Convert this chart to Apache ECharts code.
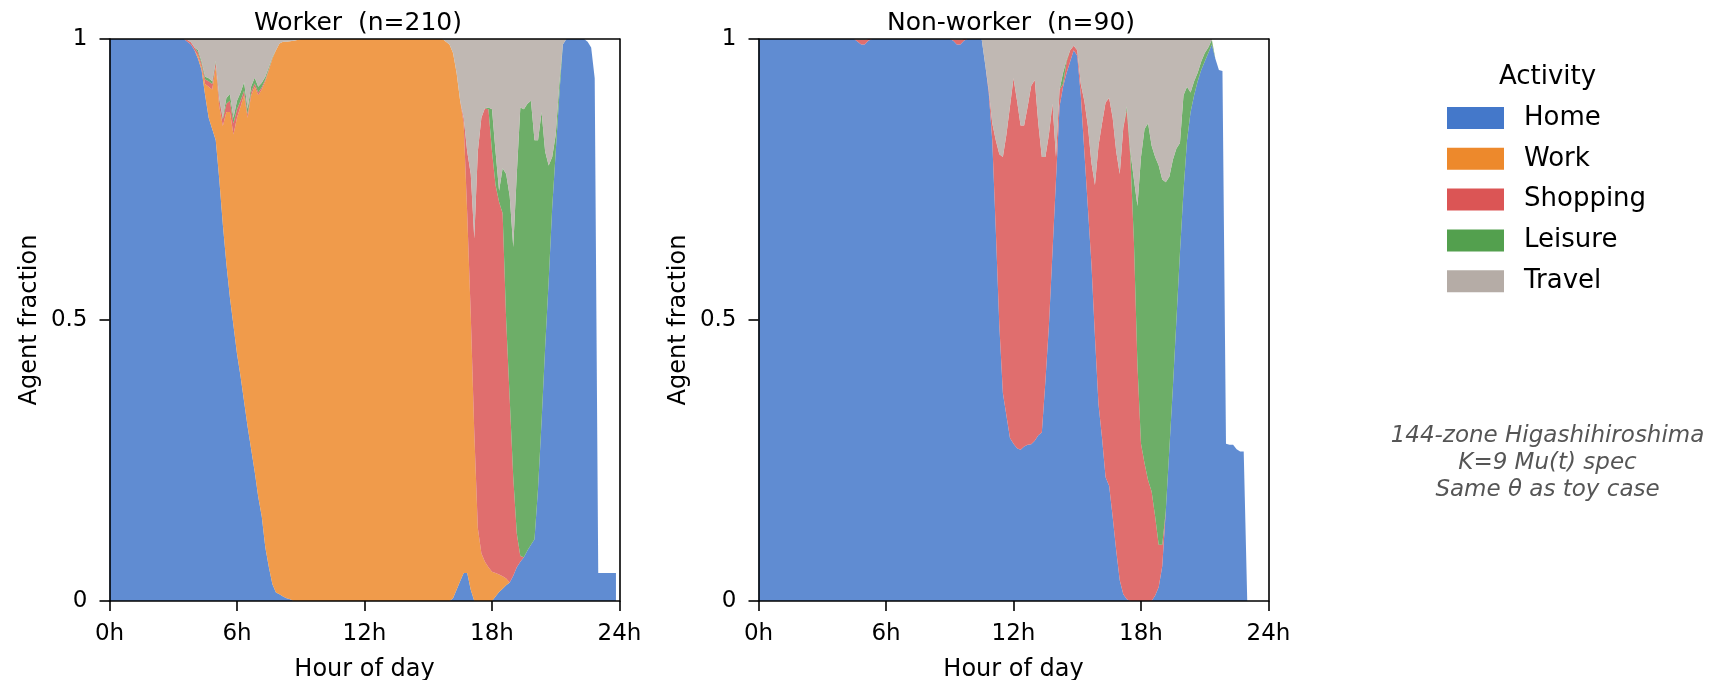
<!DOCTYPE html>
<html>
<head>
<meta charset="utf-8">
<title>Activity shares by hour</title>
<script src="https://cdn.jsdelivr.net/npm/echarts@6/dist/echarts.min.js"></script>
<style>
  html, body { margin: 0; padding: 0; background: #fff; }
  #chart { width: 1730px; height: 680px; }
</style>
</head>
<body>
<div id="chart"></div>
<script>
// 10-minute slot boundaries, 0:00 .. 24:00 (the values below fill slots 0:00 .. 23:50)
const SLOT_HOURS = Array.from({ length: 145 }, (_, i) => i / 6)

const ACTIVITIES = ['Home', 'Work', 'Shopping', 'Leisure', 'Travel']
const COLORS = ['#4478CA', '#ED892C', '#DB5555', '#53A04E', '#B5ACA6']

const X_TICK_EVERY = 36   // slots between 0h, 6h, 12h, 18h, 24h
const Y_TICKS = [0, 0.5, 1]

// Worker (n=210): one row per hour, six 10-min slots per row
const homeWorker = [
  1, 1, 1, 1, 1, 1,
  1, 1, 1, 1, 1, 1,
  1, 1, 1, 1, 1, 1,
  1, 1, 1, 1, .995, .99,
  .98, .965, .945, .90, .86, .84,
  .82, .75, .67, .60, .54, .49,
  .44, .40, .355, .31, .27, .23,
  .185, .15, .095, .06, .03, .015,
  .012, .008, .005, .003, 0, 0,
  0, 0, 0, 0, 0, 0,
  0, 0, 0, 0, 0, 0,
  0, 0, 0, 0, 0, 0,
  0, 0, 0, 0, 0, 0,
  0, 0, 0, 0, 0, 0,
  0, 0, 0, 0, 0, 0,
  0, 0, 0, 0, 0, 0,
  0, .005, .02, .035, .05, .05,
  .02, 0, 0, 0, 0, 0,
  0, .008, .016, .022, .028, .033,
  .045, .06, .07, .078, .09, .10,
  .11, .20, .32, .45, .57, .70,
  .80, .90, .99, 1, 1, 1,
  1, 1, 1, .995, .985, .93,
  .05, .05, .05, .05, .05, .05
]
const workWorker = [
  0, 0, 0, 0, 0, 0,
  0, 0, 0, 0, 0, 0,
  0, 0, 0, 0, 0, 0,
  0, 0, 0, 0, 0, 0,
  0, .005, .005, .02, .055, .07,
  .13, .13, .175, .27, .33, .34,
  .42, .48, .545, .55, .63, .685,
  .715, .76, .83, .885, .935, .965,
  .98, .987, .99, .993, .997, .998,
  1, 1, 1, 1, 1, 1,
  1, 1, 1, 1, 1, 1,
  1, 1, 1, 1, 1, 1,
  1, 1, 1, 1, 1, 1,
  1, 1, 1, 1, 1, 1,
  1, 1, 1, 1, 1, 1,
  1, 1, 1, 1, 1, .995,
  .99, .97, .92, .855, .80, .64,
  .49, .30, .13, .085, .07, .06,
  .052, .042, .031, .022, .012, 0,
  0, 0, 0, 0, 0, 0,
  0, 0, 0, 0, 0, 0,
  0, 0, 0, 0, 0, 0,
  0, 0, 0, 0, 0, 0,
  0, 0, 0, 0, 0, 0
]
const shopWorker = [
  0, 0, 0, 0, 0, 0,
  0, 0, 0, 0, 0, 0,
  0, 0, 0, 0, 0, 0,
  0, 0, 0, 0, .003, .004,
  .005, .006, .006, .008, .01, .01,
  .008, .012, .012, .015, .02, .02,
  .015, .01, .008, .006, .006, .006,
  .005, .004, .003, .002, .001, 0,
  0, 0, 0, 0, 0, 0,
  0, 0, 0, 0, 0, 0,
  0, 0, 0, 0, 0, 0,
  0, 0, 0, 0, 0, 0,
  0, 0, 0, 0, 0, 0,
  0, 0, 0, 0, 0, 0,
  0, 0, 0, 0, 0, 0,
  0, 0, 0, 0, 0, 0,
  0, 0, 0, 0, .01, .11,
  .25, .345, .67, .775, .807, .815,
  .748, .69, .663, .646, .46, .327,
  .175, .06, .01, 0, 0, 0,
  0, 0, 0, 0, 0, 0,
  0, 0, 0, 0, 0, 0,
  0, 0, 0, 0, 0, 0,
  0, 0, 0, 0, 0, 0
]
const leisureWorker = [
  0, 0, 0, 0, 0, 0,
  0, 0, 0, 0, 0, 0,
  0, 0, 0, 0, 0, 0,
  0, 0, 0, 0, 0, 0,
  0, .004, .004, .005, .005, .005,
  .003, .003, .003, .01, .012, .01,
  .015, .015, .015, .01, .01, .01,
  .01, .008, .005, .003, .002, 0,
  0, 0, 0, 0, 0, 0,
  0, 0, 0, 0, 0, 0,
  0, 0, 0, 0, 0, 0,
  0, 0, 0, 0, 0, 0,
  0, 0, 0, 0, 0, 0,
  0, 0, 0, 0, 0, 0,
  0, 0, 0, 0, 0, 0,
  0, 0, 0, 0, 0, 0,
  0, 0, 0, 0, 0, 0,
  0, 0, 0, 0, 0, .003,
  .075, .06, .02, .08, .26, .36,
  .41, .64, .798, .797, .795, .79,
  .71, .62, .55, .35, .205, .09,
  .03, .02, 0, 0, 0, 0,
  0, 0, 0, 0, 0, 0,
  0, 0, 0, 0, 0, 0
]
const travelWorker = [
  0, 0, 0, 0, 0, 0,
  0, 0, 0, 0, 0, 0,
  0, 0, 0, 0, 0, 0,
  0, 0, 0, 0, .002, .006,
  .015, .02, .04, .067, .07, .075,
  .039, .105, .14, .105, .098, .14,
  .11, .095, .077, .124, .084, .069,
  .085, .078, .067, .05, .032, .02,
  .008, .005, .005, .004, .003, .002,
  0, 0, 0, 0, 0, 0,
  0, 0, 0, 0, 0, 0,
  0, 0, 0, 0, 0, 0,
  0, 0, 0, 0, 0, 0,
  0, 0, 0, 0, 0, 0,
  0, 0, 0, 0, 0, 0,
  0, 0, 0, 0, 0, .005,
  .01, .025, .06, .11, .14, .20,
  .24, .355, .20, .14, .123, .122,
  .125, .20, .27, .23, .24, .28,
  .37, .24, .122, .125, .115, .11,
  .18, .18, .13, .20, .225, .21,
  .17, .08, .01, 0, 0, 0,
  0, 0, 0, 0, 0, 0,
  0, 0, 0, 0, 0, 0
]

// Non-worker (n=90)
const homeNonWorker = [
  1, 1, 1, 1, 1, 1,
  1, 1, 1, 1, 1, 1,
  1, 1, 1, 1, 1, 1,
  1, 1, 1, 1, 1, 1,
  1, 1, 1, 1, .995, .99,
  .99, .997, 1, 1, 1, 1,
  1, 1, 1, 1, 1, 1,
  1, 1, 1, 1, 1, 1,
  1, 1, 1, 1, 1, 1,
  1, .997, .99, .99, .997, 1,
  1, 1, 1, 1, .955, .905,
  .82, .66, .49, .37, .33, .29,
  .28, .272, .269, .275, .278, .279,
  .285, .295, .30, .39, .49, .62,
  .75, .88, .915, .94, .96, .98,
  .97, .90, .80, .70, .60, .47,
  .35, .29, .22, .205, .15, .09,
  .037, .012, .003, 0, 0, 0,
  0, 0, 0, 0, .01, .025,
  .062, .16, .27, .38, .50, .62,
  .73, .82, .87, .90, .925, .945,
  .96, .975, .99, .965, .945, .943,
  .28, .278, .278, .27, .266, .266,
  0, 0, 0, 0, 0, 0
]
const workNonWorker = new Array(144).fill(0)
const shopNonWorker = [
  0, 0, 0, 0, 0, 0,
  0, 0, 0, 0, 0, 0,
  0, 0, 0, 0, 0, 0,
  0, 0, 0, 0, 0, 0,
  0, 0, 0, 0, .003, .008,
  .008, .003, 0, 0, 0, 0,
  0, 0, 0, 0, 0, 0,
  0, 0, 0, 0, 0, 0,
  0, 0, 0, 0, 0, 0,
  0, .002, .008, .008, .003, 0,
  0, 0, 0, 0, 0, .005,
  .03, .16, .305, .42, .50, .59,
  .65, .618, .577, .571, .602, .638,
  .642, .555, .49, .40, .34, .265,
  .04, .03, .005, .02, .02, .008,
  .01, .02, .09, .145, .18, .27,
  .46, .56, .667, .69, .71, .71,
  .723, .83, .871, .79, .64, .42,
  .28, .245, .215, .195, .14, .075,
  .038, 0, 0, 0, 0, 0,
  0, 0, 0, 0, 0, 0,
  0, 0, 0, 0, 0, 0,
  0, 0, 0, 0, 0, 0,
  0, 0, 0, 0, 0, 0
]
const leisureNonWorker = [
  0, 0, 0, 0, 0, 0,
  0, 0, 0, 0, 0, 0,
  0, 0, 0, 0, 0, 0,
  0, 0, 0, 0, 0, 0,
  0, 0, 0, 0, 0, 0,
  0, 0, 0, 0, 0, 0,
  0, 0, 0, 0, 0, 0,
  0, 0, 0, 0, 0, 0,
  0, 0, 0, 0, 0, 0,
  0, 0, 0, 0, 0, 0,
  0, 0, 0, 0, 0, 0,
  0, 0, 0, 0, 0, 0,
  0, 0, 0, 0, 0, 0,
  0, 0, 0, 0, 0, 0,
  0, 0, .02, .003, 0, 0,
  0, 0, 0, 0, 0, 0,
  0, 0, 0, 0, 0, 0,
  0, 0, .006, .01, .11, .283,
  .51, .595, .635, .615, .64, .675,
  .65, .585, .485, .405, .305, .195,
  .17, .095, .035, .025, .015, .015,
  .015, .01, .008, 0, 0, 0,
  0, 0, 0, 0, 0, 0,
  0, 0, 0, 0, 0, 0
]
const travelNonWorker = [
  0, 0, 0, 0, 0, 0,
  0, 0, 0, 0, 0, 0,
  0, 0, 0, 0, 0, 0,
  0, 0, 0, 0, 0, 0,
  0, 0, 0, 0, .002, .002,
  .002, 0, 0, 0, 0, 0,
  0, 0, 0, 0, 0, 0,
  0, 0, 0, 0, 0, 0,
  0, 0, 0, 0, 0, 0,
  0, .001, .002, .002, 0, 0,
  0, 0, 0, 0, .045, .09,
  .15, .18, .205, .21, .17, .12,
  .07, .11, .154, .154, .12, .083,
  .073, .15, .21, .21, .17, .115,
  .21, .09, .06, .037, .02, .012,
  .02, .08, .11, .155, .22, .26,
  .19, .15, .113, .105, .14, .20,
  .24, .158, .12, .20, .25, .297,
  .21, .16, .15, .19, .21, .225,
  .25, .255, .245, .215, .195, .185,
  .10, .085, .095, .075, .06, .04,
  .025, .015, .002, 0, 0, 0,
  0, 0, 0, 0, 0, 0,
  0, 0, 0, 0, 0, 0
]

const workerShares = [homeWorker, workWorker, shopWorker, leisureWorker, travelWorker]
const nonWorkerShares = [homeNonWorker, workNonWorker, shopNonWorker, leisureNonWorker, travelNonWorker]

const FONT = "'DejaVu Sans', sans-serif"
const SPINE = { color: '#000', width: 1.6 }

// grid boxes, in px
const PANELS = [
    { left: 109.5, titleX: 358, title: 'Worker  (n=210)', shares: workerShares },
    { left: 758.5, titleX: 1011, title: 'Non-worker  (n=90)', shares: nonWorkerShares }
]
const PLOT_TOP = 39
const PLOT_W = 510
const PLOT_H = 562

// plain line-only axes to close the box on the top and right
function frameAxis(p, pos) {
    return {
        gridIndex: p, type: 'value', position: pos, z: 10,
        min: 0, max: 1,
        axisLine: { show: true, onZero: false, lineStyle: SPINE },
        axisTick: { show: false }, axisLabel: { show: false }, splitLine: { show: false }
    }
}

const grids = [], xAxes = [], yAxes = [], series = [], graphics = []

PANELS.forEach((panel, p) => {
    // fixed box: do not let v6 shrink the grid to keep axis names inside the canvas
    grids.push({ left: panel.left, top: PLOT_TOP, width: PLOT_W, height: PLOT_H, containLabel: false, outerBoundsMode: 'none' })

    xAxes.push({
        gridIndex: p, type: 'category', position: 'bottom', z: 10,
        data: SLOT_HOURS.map(String), boundaryGap: false,
        axisLine: { show: true, onZero: false, lineStyle: SPINE },
        axisTick: { show: true, length: 10, interval: X_TICK_EVERY - 1, lineStyle: SPINE },
        axisLabel: {
            interval: X_TICK_EVERY - 1, formatter: v => v + 'h',
            fontSize: 23, color: '#000', margin: 22, fontFamily: FONT
        },
        splitLine: { show: false },
        name: 'Hour of day', nameLocation: 'middle', nameGap: 57,
        nameTextStyle: { fontSize: 24, color: '#000', fontFamily: FONT }
    })
    xAxes.push(frameAxis(p, 'top'))

    yAxes.push({
        gridIndex: p, type: 'value', position: 'left', z: 10,
        min: Y_TICKS[0], max: Y_TICKS[Y_TICKS.length - 1], interval: 0.5,
        axisLine: { show: true, onZero: false, lineStyle: SPINE },
        axisTick: { show: true, length: 10, lineStyle: SPINE },
        axisLabel: { fontSize: 23, color: '#000', margin: 22, fontFamily: FONT },
        splitLine: { show: false },
        name: 'Agent fraction', nameLocation: 'middle', nameGap: 68,
        nameTextStyle: { fontSize: 24, color: '#000', fontFamily: FONT }
    })
    yAxes.push(frameAxis(p, 'right'))

    ACTIVITIES.forEach((name, k) => {
        series.push({
            name, type: 'line', stack: 'panel' + p,
            xAxisIndex: p * 2, yAxisIndex: p * 2,
            data: panel.shares[k],
            symbol: 'none', showSymbol: false, silent: true, z: 2,
            lineStyle: { width: 0 },
            itemStyle: { color: COLORS[k] },
            areaStyle: { color: COLORS[k], opacity: 0.85 }
        })
    })

    graphics.push({
        type: 'text', x: panel.titleX, y: 11,
        style: { text: panel.title, fontSize: 25, fontFamily: FONT, fill: '#000', align: 'center', verticalAlign: 'top' }
    })
})

graphics.push({
    type: 'text', x: 1547.5, y: 64,
    style: { text: 'Activity', fontSize: 26, fontFamily: FONT, fill: '#000', align: 'center', verticalAlign: 'top' }
})
graphics.push({
    type: 'text', x: 1547.5, y: 423,
    style: {
        text: '144-zone Higashihiroshima\nK=9 Mu(t) spec\nSame θ as toy case',
        fontSize: 23, fontStyle: 'italic', fontFamily: FONT, fill: '#555',
        lineHeight: 26.7, align: 'center', verticalAlign: 'top'
    }
})

const chart = echarts.init(document.getElementById('chart'), null, { renderer: 'canvas' })
chart.setOption({
    animation: false,
    backgroundColor: '#fff',
    textStyle: { fontFamily: FONT },
    grid: grids,
    xAxis: xAxes,
    yAxis: yAxes,
    legend: {
        data: ACTIVITIES, orient: 'vertical', left: 1447, top: 105, padding: 0,
        icon: 'rect', itemWidth: 57, itemHeight: 22, itemGap: 14.8,
        selectedMode: false,
        textStyle: { fontSize: 26, color: '#000', fontFamily: FONT, lineHeight: 22, padding: [0, 0, 0, 15] }
    },
    graphic: graphics,
    series
})
</script>
</body>
</html>
